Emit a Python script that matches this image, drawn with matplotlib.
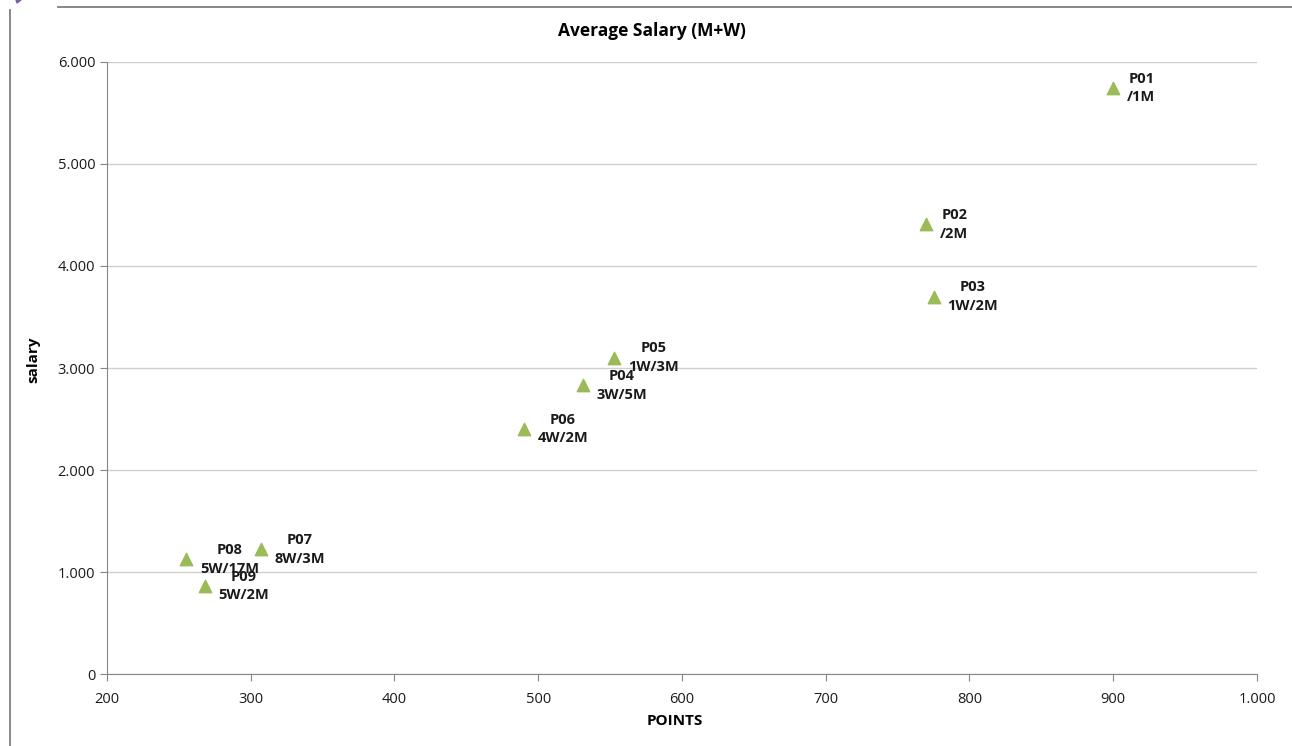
import matplotlib.pyplot as plt
from matplotlib.lines import Line2D
from matplotlib.patches import Polygon
from matplotlib.ticker import FuncFormatter, MultipleLocator

# puntos y salario medio por posición
codigos = ["P01", "P02", "P03", "P04", "P05", "P06", "P07", "P08", "P09"]
plantilla = ["/1M", "/2M", "1W/2M", "3W/5M", "1W/3M", "4W/2M", "8W/3M", "5W/17M", "5W/2M"]
puntos = [900, 770, 775, 531, 553, 490, 307, 255, 268]
salario = [5745, 4410, 3700, 2833, 3100, 2402, 1225, 1127, 863]

plt.rcParams['font.family'] = ['Open Sans', 'DejaVu Sans']

fig = plt.figure(figsize=(12.92, 7.46), dpi=100)
ax = fig.add_axes([0.0828, 0.0965, 0.8901, 0.8204])

ax.scatter(puntos, salario, marker='^', s=80, color='#9bbb59', zorder=3)

for cod, pl, x, y in zip(codigos, plantilla, puntos, salario):
    ax.annotate(f"{cod}\n{pl}", (x, y), xytext=(10, 0), textcoords='offset points',
                ha='left', va='center', multialignment='center',
                fontsize=10.5, fontweight='bold', color='#1a1a1a', linespacing=1.45)

ax.set_xlim(200, 1000)
ax.set_ylim(0, 6000)
ax.xaxis.set_major_locator(MultipleLocator(100))
ax.yaxis.set_major_locator(MultipleLocator(1000))


def miles(v, pos):
    # separador de miles con punto
    return f"{int(v):,}".replace(",", ".")


ax.xaxis.set_major_formatter(FuncFormatter(miles))
ax.yaxis.set_major_formatter(FuncFormatter(miles))
ax.tick_params(axis='both', labelsize=10.5, color='#868686', length=5, labelcolor='#1a1a1a')
ax.tick_params(axis='x', pad=8)

ax.grid(axis='y', color='#d0d0d0', linewidth=1)
ax.set_axisbelow(True)
for lado in ['top', 'right']:
    ax.spines[lado].set_visible(False)
for lado in ['left', 'bottom']:
    ax.spines[lado].set_color('#868686')

ax.set_xlabel("POINTS", fontsize=11, fontweight='bold')
ax.xaxis.set_label_coords(0.494, -0.066)
ax.set_ylabel("salary", fontsize=11, fontweight='bold')
ax.yaxis.set_label_coords(-0.058, 0.513)
fig.text(0.5046, 1 - 31 / 746, "Average Salary (M+W)", ha='center', va='center',
         fontsize=12.5, fontweight='bold')

# marco de la hoja
fig.add_artist(Line2D([10 / 1292, 10 / 1292], [0, 1 - 10 / 746], color='#7f7f7f', lw=1.3))
fig.add_artist(Line2D([58 / 1292, 1], [1 - 7 / 746, 1 - 7 / 746], color='#7f7f7f', lw=1.3))
fig.add_artist(Polygon([[16 / 1292, 1], [21 / 1292, 1], [17 / 1292, 1 - 3 / 746]],
                       closed=True, color='#7b5ea7', transform=fig.transFigure))

fig.savefig("out.png", dpi=100)
